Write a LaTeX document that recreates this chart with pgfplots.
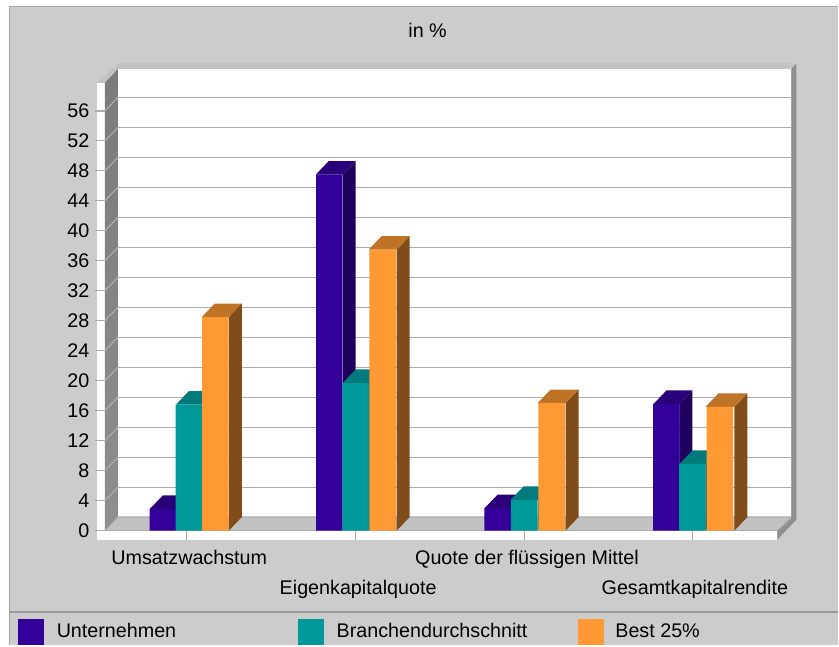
\documentclass[border=0pt]{standalone}
\usepackage{fontspec}
\setmainfont{Liberation Sans}
\usepackage{pgfplots}
\pgfplotsset{compat=1.18}

\definecolor{bg}{HTML}{CCCCCC}
\definecolor{edgeline}{HTML}{A9A696}
\definecolor{band}{HTML}{C2C2C2}
\definecolor{rwall}{HTML}{8F8F8F}
\definecolor{gridc}{HTML}{ABABAB}
\definecolor{blueF}{HTML}{330099}
\definecolor{blueS}{HTML}{1F005C}
\definecolor{blueT}{HTML}{29007A}
\definecolor{tealF}{HTML}{009999}
\definecolor{tealS}{HTML}{005C5C}
\definecolor{tealT}{HTML}{007A7A}
\definecolor{orangeF}{HTML}{FF9933}
\definecolor{orangeS}{HTML}{804D1A}
\definecolor{orangeT}{HTML}{BF7326}

% side and top of one bar: left x, right x, value, side colour, top colour
\newcommand{\barfaces}[5]{%
  \pgfmathsetmacro{\ld}{#1+13}%
  \pgfmathsetmacro{\rd}{#2+13}%
  \pgfmathsetmacro{\vd}{#3+1.8}%
  \addplot[fill=#4,draw=none,forget plot] coordinates {(#2,0) (\rd,1.8) (\rd,\vd) (#2,#3)} -- cycle;
  \addplot[fill=#5,draw=none,forget plot] coordinates {(#1,#3) (#2,#3) (\rd,\vd) (\ld,\vd)} -- cycle;
}

\pgfplotstableread{
x v
163.0 2.9
329.5 47.5
498.0 3.0
667.0 16.9
}\blueseries
\pgfplotstableread{
x v
189.0 16.8
356.0 19.7
524.5 4.1
693.0 8.9
}\tealseries
\pgfplotstableread{
x v
215.5 28.5
383.0 37.5
552.0 17.0
720.5 16.5
}\orangeseries

\begin{document}
\fontsize{14.8}{18}\selectfont
\begin{tikzpicture}[x=0.75pt,y=-0.75pt]
% panel, in pixels of the reference
\fill[white] (0,0) rectangle (839,646);
\fill[bg] (10,7) rectangle (839,646);
\draw[edgeline,line width=1pt] (9.5,646) -- (9.5,6.5) -- (839,6.5);
\draw[gray!80,line width=0.9pt] (10,612.5) -- (839,612.5);
% frame of the 3d box
\fill[band] (97,83) -- (118,63.5) -- (797,63.5) -- (792,69) -- (118,69) -- (105,83) -- cycle;
\fill[white] (97,83) rectangle (105,540);
\fill[white] (97,531) rectangle (778,540);
\shade[top color=black!52,bottom color=black!44] (105,83) -- (118,69) -- (118,517.5) -- (105,531) -- cycle;
\fill[white] (118,69) rectangle (792,517.5);
\fill[band] (105,531) -- (118,517.5) -- (792,517.5) -- (778,531) -- cycle;
\draw[gridc,line width=0.9pt] (105,531) -- (118,517.5) -- (792,517.5);
\draw[gridc,line width=0.9pt] (105,531) -- (778,531);
\fill[rwall] (792,69) -- (797,63.5) -- (797,520) -- (792,524) -- cycle;
\fill[rwall] (792,517.5) -- (797,520) -- (778,540) -- (778,531) -- cycle;
\draw[gridc,line width=0.9pt] (780,529.5) -- (792,518);
\begin{axis}[
    at={(72.75pt,-405pt)}, anchor=south west,
    scale only axis,
    width=510.75pt, height=342.75pt,
    xmin=97, xmax=778,
    ymin=-1.2, ymax=59.733,
    clip=false,
    axis line style={draw=none},
    tick align=inside,
    major tick length=6.4pt,
    tick style={color=gridc,line width=0.9pt},
    xtick pos=bottom, ytick pos=left,
    xtick={187,525},
    xticklabels={Umsatzwachstum,Quote der flüssigen Mittel},
    extra x ticks={356,693},
    extra x tick labels={Eigenkapitalquote,Gesamtkapitalrendite},
    extra x tick style={tick label style={yshift=-22.5pt}},
    x tick label style={yshift=-2.75pt,xshift=1.8pt},
    ytick={0,4,...,56},
    y tick label style={xshift=-0.5pt},
    /pgf/number format/assume math mode=true,
    title={in \%},
    title style={at={(0.486,1.0985)},anchor=center},
    legend style={at={(-0.116,-0.2014)},anchor=west,draw=none,fill=none,
        inner sep=0pt,legend columns=3,legend cell align=left},
]
% gridlines on the back wall and the left wall
\pgfplotsinvokeforeach{4,8,12,16,20,24,28,32,36,40,44,48,52,56}{
  \draw[gridc,line width=0.9pt] (axis cs:118,#1+1.8) -- (axis cs:792,#1+1.8);
  \draw[gridc!90,line width=0.7pt] (axis cs:105,#1) -- (axis cs:118,#1+1.8);
  \draw[gridc,line width=0.9pt] (axis cs:95,#1) -- (axis cs:97,#1);
}
\draw[gridc,line width=0.9pt] (axis cs:95,0) -- (axis cs:97,0);
% series 1
\barfaces{150}{176}{2.9}{blueS}{blueT}
\barfaces{316}{343}{47.5}{blueS}{blueT}
\barfaces{485}{511}{3.0}{blueS}{blueT}
\barfaces{654}{680}{16.9}{blueS}{blueT}
\addplot[ybar,bar width=26.5,bar shift=0pt,fill=blueF,draw=none,forget plot] table[x=x,y=v] {\blueseries};
% series 2
\barfaces{176}{202}{16.8}{tealS}{tealT}
\barfaces{343}{369}{19.7}{tealS}{tealT}
\barfaces{511}{538}{4.1}{tealS}{tealT}
\barfaces{680}{706}{8.9}{tealS}{tealT}
\addplot[ybar,bar width=26.5,bar shift=0pt,fill=tealF,draw=none,forget plot] table[x=x,y=v] {\tealseries};
% series 3
\barfaces{202}{229}{28.5}{orangeS}{orangeT}
\barfaces{369}{397}{37.5}{orangeS}{orangeT}
\barfaces{538}{566}{17.0}{orangeS}{orangeT}
\barfaces{706}{735}{16.5}{orangeS}{orangeT}
\addplot[ybar,bar width=26.5,bar shift=0pt,fill=orangeF,draw=none,forget plot] table[x=x,y=v] {\orangeseries};
% legend swatches
\addlegendimage{legend image code/.code={\fill[blueF] (0pt,-9pt) rectangle (18.5pt,10pt);}}
\addlegendentry{\makebox[187.25pt][l]{\hspace*{8pt}Unternehmen}}
\addlegendimage{legend image code/.code={\fill[tealF] (0pt,-9pt) rectangle (18.5pt,10pt);}}
\addlegendentry{\makebox[187.25pt][l]{\hspace*{8pt}Branchendurchschnitt}}
\addlegendimage{legend image code/.code={\fill[orangeF] (0pt,-9pt) rectangle (18.5pt,10pt);}}
\addlegendentry{\hspace*{7pt}Best 25\%}
\end{axis}
\end{tikzpicture}
\end{document}
